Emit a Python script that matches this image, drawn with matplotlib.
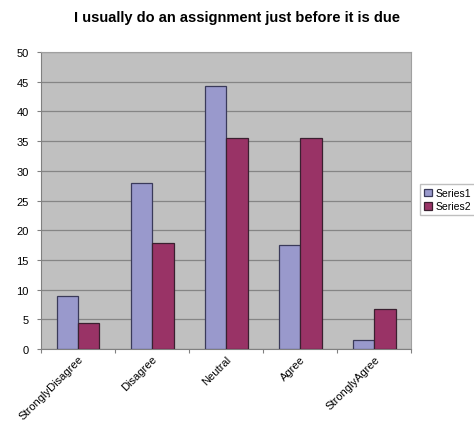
import numpy as np
import matplotlib.pyplot as plt

plt.rcParams["font.family"] = ["Liberation Sans", "DejaVu Sans"]

# survey answers, percent of respondents
categories = ["StronglyDisagree", "Disagree", "Neutral", "Agree", "StronglyAgree"]
series1 = [8.9, 27.9, 44.2, 17.6, 1.5]
series2 = [4.4, 17.8, 35.6, 35.6, 6.7]
yticks = [0, 5, 10, 15, 20, 25, 30, 35, 40, 45, 50]

fig = plt.figure(figsize=(4.74, 4.27), dpi=100)
ax = fig.add_axes([0.0865, 0.180, 0.781, 0.696])
ax.set_facecolor("#c0c0c0")

x = np.arange(len(categories))
w = 0.29
ax.bar(x - w / 2, series1, w, color="#9999cc", edgecolor="#3a3a5a", linewidth=0.9,
       label="Series1", zorder=3)
ax.bar(x + w / 2, series2, w, color="#993366", edgecolor="#3a2030", linewidth=0.9,
       label="Series2", zorder=3)

ax.set_xlim(-0.5, len(categories) - 0.5)
ax.set_ylim(0, 50)
ax.set_yticks(yticks)
ax.yaxis.grid(True, color="#858585", linewidth=0.9, zorder=1)
ax.tick_params(axis="y", labelsize=8, length=3, color="#808080", pad=6)

# ticks between categories, labels under each category
ax.set_xticks(np.arange(len(categories) + 1) - 0.5)
ax.set_xticklabels([])
ax.set_xticks(x, minor=True)
ax.set_xticklabels(categories, minor=True, rotation=45, ha="right",
                   rotation_mode="anchor", fontsize=8)
ax.tick_params(axis="x", which="minor", length=0, pad=3)
ax.tick_params(axis="x", which="major", length=3, color="#808080")

for side in ["top", "right"]:
    ax.spines[side].set_color("#a0a0a0")
for side in ["left", "bottom"]:
    ax.spines[side].set_color("#808080")

fig.suptitle("I usually do an assignment just before it is due",
             fontsize=10.5, fontweight="bold", x=0.5, y=0.975)

fig.legend(loc="center left", bbox_to_anchor=(0.875, 0.53), fontsize=7.5,
           frameon=True, fancybox=False, edgecolor="#b0b0b0",
           handlelength=0.8, handleheight=0.8, handletextpad=0.3,
           borderpad=0.4, labelspacing=0.3)

fig.savefig("out.png", dpi=100)
